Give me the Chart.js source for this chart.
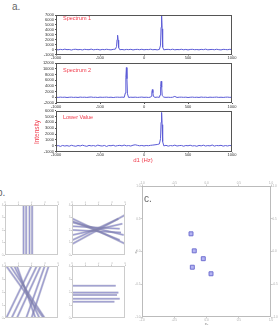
<!DOCTYPE html>
<html><head><meta charset="utf-8">
<script src="https://cdn.jsdelivr.net/npm/chart.js@4"></script>
<style>
html,body{margin:0;padding:0;background:#fff;width:280px;height:331px;overflow:hidden;position:relative;font-family:"Liberation Sans",Arial,sans-serif}
canvas{position:absolute}
.t{position:absolute;white-space:nowrap;line-height:1}
.red{color:#f03c4c}
</style></head><body>
<canvas id="s1" width="212" height="52" style="left:28px;top:10px"></canvas>
<canvas id="s2" width="212" height="52" style="left:28px;top:58px"></canvas>
<canvas id="s3" width="212" height="53" style="left:28px;top:106px"></canvas>
<canvas id="b1" width="59" height="56" style="left:1px;top:201px"></canvas>
<canvas id="b2" width="59" height="56" style="left:68px;top:201px"></canvas>
<canvas id="b3" width="59" height="58" style="left:1px;top:262px"></canvas>
<canvas id="b4" width="59" height="58" style="left:68px;top:262px"></canvas>
<canvas id="pc" width="146" height="146" style="left:133px;top:180px"></canvas>

<div class="t" style="left:12px;top:2px;font-size:10px;color:#666">a.</div>
<div class="t red" style="left:63px;top:16px;font-size:5.5px">Spectrum 1</div>
<div class="t red" style="left:63px;top:68px;font-size:5.5px">Spectrum 2</div>
<div class="t red" style="left:63px;top:115px;font-size:5.5px">Lower Value</div>
<div class="t red" style="left:37px;top:132px;font-size:6.5px;transform:translate(-50%,-50%) rotate(-90deg)">Intensity</div>
<div class="t red" style="left:143px;top:160px;font-size:6px;transform:translate(-50%,-50%)">d1 (Hz)</div>
<div class="t" style="left:-3px;top:188px;font-size:10px;color:#666">b.</div>
<div class="t" style="left:144px;top:194px;font-size:10px;color:#666">c.</div>

<script>
// ---- Panel a: spectra ----
const s1X = [-1000,-975,-950,-925,-900,-875,-850,-825,-800,-775,-750,-725,-700,-675,-650,-625,-600,-575,-550,-525,-500,-475,-450,-425,-400,-375,-350,-325,
  -312,-306,-300,-294,-288,
  -275,-250,-225,-200,-175,-150,-125,-100,-75,-50,-25,0,25,50,75,100,125,150,175,
  188,194,200,206,212,
  225,250,275,300,325,350,375,400,425,450,475,500,525,550,575,600,625,650,675,700,725,750,775,800,825,850,875,900,925,950,975,1000];
const s1Y = [20,-60,40,-30,80,-20,10,-90,30,60,-40,20,-70,50,0,-30,90,-50,10,40,-80,30,-20,60,-10,-60,40,80,
  600,2000,2900,1900,400,
  -40,20,-60,30,-20,50,-70,10,40,-30,60,-50,20,-10,70,-40,10,-60,30,
  900,4500,6900,4200,500,
  -60,20,40,-30,70,-50,10,-20,60,-40,30,-70,20,50,-30,10,-60,40,-20,80,-50,0,30,-40,60,-20,-70,40,10,-30,50,-10];

const s2X = [-1000,-975,-950,-925,-900,-875,-850,-825,-800,-775,-750,-725,-700,-675,-650,-625,-600,-575,-550,-525,-500,-475,-450,-425,-400,-375,-350,-325,-300,-275,-250,-225,
  -212,-206,-200,-194,-188,
  -175,-150,-125,-100,-75,-50,-25,0,25,50,75,
  83,89,95,101,107,
  125,150,175,
  183,189,195,201,207,
  225,250,275,300,325,350,375,400,425,450,475,500,525,550,575,600,625,650,675,700,725,750,775,800,825,850,875,900,925,950,975,1000];
const s2Y = [30,-50,60,-20,40,-80,10,50,-40,20,-60,70,-10,30,-50,40,90,-30,20,-70,50,-20,10,60,-40,30,-90,20,40,-10,60,-30,
  1500,7000,10400,6500,1200,
  -60,30,-20,50,-40,10,70,-30,20,-50,40,
  400,1800,2700,1600,300,
  -40,60,-20,
  800,3800,5600,3500,600,
  50,-30,20,-40,10,300,-60,30,50,-20,40,-70,10,60,-30,20,-50,80,-10,30,-60,40,-20,10,70,-40,20,-50,30,60,-30,10];

const s3X = [-1000,-975,-950,-925,-900,-875,-850,-825,-800,-775,-750,-725,-700,-675,-650,-625,-600,-575,-550,-525,-500,-475,-450,-425,-400,-375,-350,-325,-300,-275,-250,-225,-200,-175,-150,-125,-100,-75,-50,-25,0,25,50,75,100,125,150,175,
  188,194,200,206,212,
  225,250,275,300,325,350,375,400,425,450,475,500,525,550,575,600,625,650,675,700,725,750,775,800,825,850,875,900,925,950,975,1000];
const s3Y = [-80,20,-120,40,-60,10,-90,60,-30,-100,30,-50,80,-20,-110,50,-40,20,-80,90,-10,-60,40,-130,30,-20,70,-70,10,50,-40,100,-30,20,-60,80,150,60,-20,40,-50,30,-10,60,100,150,200,300,
  1200,4000,5700,3600,700,
  -40,60,-80,20,-30,90,-60,10,40,-90,30,-20,70,-50,0,-100,40,-30,80,-60,20,-40,110,-70,30,-10,60,-80,20,-50,40,-20];

// ---- Panel b: line segments [x1,y1,x2,y2] ----
const bTopLeft = [[1.4,0,1.4,4],[1.6,0,1.6,4],[1.85,0,1.85,4],[2.05,0,2.05,4]];
const bTopRight = [[0.05,2.9,4,0.9],[0.05,0.9,4,3.2],[0.05,2.6,3.9,1.6],[0.05,1.6,3.8,2.5],[0.05,2.0,3.7,1.8],[0.05,2.3,3.6,2.1],[0.05,1.2,3.5,2.9],[0.05,2.7,3.6,1.2]];
const bBotLeft = [[0.1,4,2.9,0],[0.4,4,3.0,0],[0.7,4,2.6,0],[0.9,4,2.3,0],[2.0,4,0.1,0],[2.4,4,0.5,0],[2.7,4,0.9,0],[3.0,4,1.6,0],[3.3,4,2.0,0]];
const bBotRight = [[0.05,2.48,3.3,2.48],[0.05,1.95,3.5,1.95],[0.05,1.77,3.4,1.77],[0.05,1.48,3.6,1.48],[0.05,1.25,3.2,1.25]];

// ---- Panel c: scatter ----
const cX = [-0.24,-0.19,-0.05,-0.22,0.07];
const cY = [0.27,0.01,-0.11,-0.24,-0.34];

const frame = color => ({id:'frame',afterDraw(ch){const a=ch.chartArea,c=ch.ctx;c.save();c.strokeStyle=color;c.lineWidth=1;
  c.strokeRect(Math.round(a.left)+0.5,Math.round(a.top)+0.5,Math.round(a.right-a.left)-1,Math.round(a.bottom-a.top)-1);c.restore();}});
const base = {responsive:false,animation:false,events:[],plugins:{legend:{display:false},tooltip:{enabled:false}}};

function spectrum(id,xs,ys,ymin,ymax,ystep,padTop,xH){
  new Chart(document.getElementById(id),{
    type:'scatter',
    data:{datasets:[{data:xs.map((x,i)=>({x:x,y:ys[i]})),showLine:true,pointRadius:0,borderColor:'#5b5bd6',borderWidth:1,tension:0}]},
    options:Object.assign({},base,{
      layout:{padding:{top:padTop,right:8,left:0,bottom:0}},
      scales:{
        x:{type:'linear',min:-1000,max:1000,ticks:{stepSize:500,font:{size:4},color:'#333',padding:0,maxRotation:0,autoSkip:false,callback:v=>String(v)},
           grid:{drawOnChartArea:false,tickLength:1,color:'#555'},border:{display:false},afterFit:s=>{s.height=xH;}},
        y:{min:ymin,max:ymax,ticks:{stepSize:ystep,font:{size:4},color:'#333',padding:1,autoSkip:false,callback:v=>String(v)},
           grid:{drawOnChartArea:false,tickLength:1,color:'#555'},border:{display:false},afterFit:s=>{s.width=28;}}
      }
    }),
    plugins:[frame('#555')]
  });
}
spectrum('s1',s1X,s1Y,-1000,7000,1000,5,7.5);
spectrum('s2',s2X,s2Y,-2000,12000,2000,5,7);
spectrum('s3',s3X,s3Y,-1000,6000,1000,4.7,7.5);

function small(id,segs){
  const ds=[];
  segs.forEach(s=>{ds.push({data:[{x:s[0],y:s[1]},{x:s[2],y:s[3]}],showLine:true,pointRadius:0,borderColor:'rgba(130,130,170,0.5)',borderWidth:2.2});});
  segs.forEach(s=>{ds.push({data:[{x:s[0],y:s[1]},{x:s[2],y:s[3]}],showLine:true,pointRadius:0,borderColor:'rgba(140,140,245,0.85)',borderWidth:0.8});});
  new Chart(document.getElementById(id),{
    type:'scatter',data:{datasets:ds},
    options:Object.assign({},base,{
      layout:{padding:{top:0,right:2,left:0,bottom:2}},
      scales:{
        x:{position:'top',min:0,max:4,ticks:{stepSize:1,font:{size:3},color:'#bbb',padding:0,maxRotation:0},grid:{drawOnChartArea:false,tickLength:1.5,color:'#ccc'},border:{display:false},afterFit:s=>{s.height=4;}},
        y:{min:0,max:4,ticks:{stepSize:1,font:{size:3},color:'#bbb',padding:0},grid:{drawOnChartArea:false,tickLength:1.5,color:'#ccc'},border:{display:false},afterFit:s=>{s.width=4;}}
      }
    }),
    plugins:[frame('#ccc')]
  });
}
small('b1',bTopLeft);
small('b2',bTopRight);
small('b3',bBotLeft);
small('b4',bBotRight);

const tk = {stepSize:0.5,font:{size:3},color:'#aaa',padding:0,maxRotation:0,autoSkip:false,callback:v=>v.toFixed(1)};
const gr = {drawOnChartArea:false,tickLength:1.5,color:'#ccc'};
new Chart(document.getElementById('pc'),{
  type:'scatter',
  data:{datasets:[{data:cX.map((x,i)=>({x:x,y:cY[i]})),pointStyle:'rect',pointRadius:2.8,backgroundColor:'#b4b4f2',borderColor:'#7070d0',borderWidth:1}]},
  options:Object.assign({},base,{
    layout:{padding:0},
    scales:{
      x:{min:-1,max:1,ticks:tk,grid:gr,border:{display:false},title:{display:true,text:'e\u2081',font:{size:4},color:'#888',padding:0},afterFit:s=>{s.height=9;}},
      x2:{type:'linear',position:'top',min:-1,max:1,ticks:tk,grid:gr,border:{display:false},afterFit:s=>{s.height=6;}},
      y:{min:-1,max:1,ticks:tk,grid:gr,border:{display:false},title:{display:true,text:'e\u2082',font:{size:4},color:'#888',padding:0},afterFit:s=>{s.width=9;}},
      y2:{type:'linear',position:'right',min:-1,max:1,ticks:tk,grid:gr,border:{display:false},afterFit:s=>{s.width=8;}}
    }
  }),
  plugins:[frame('#bbb')]
});
</script>
</body></html>
